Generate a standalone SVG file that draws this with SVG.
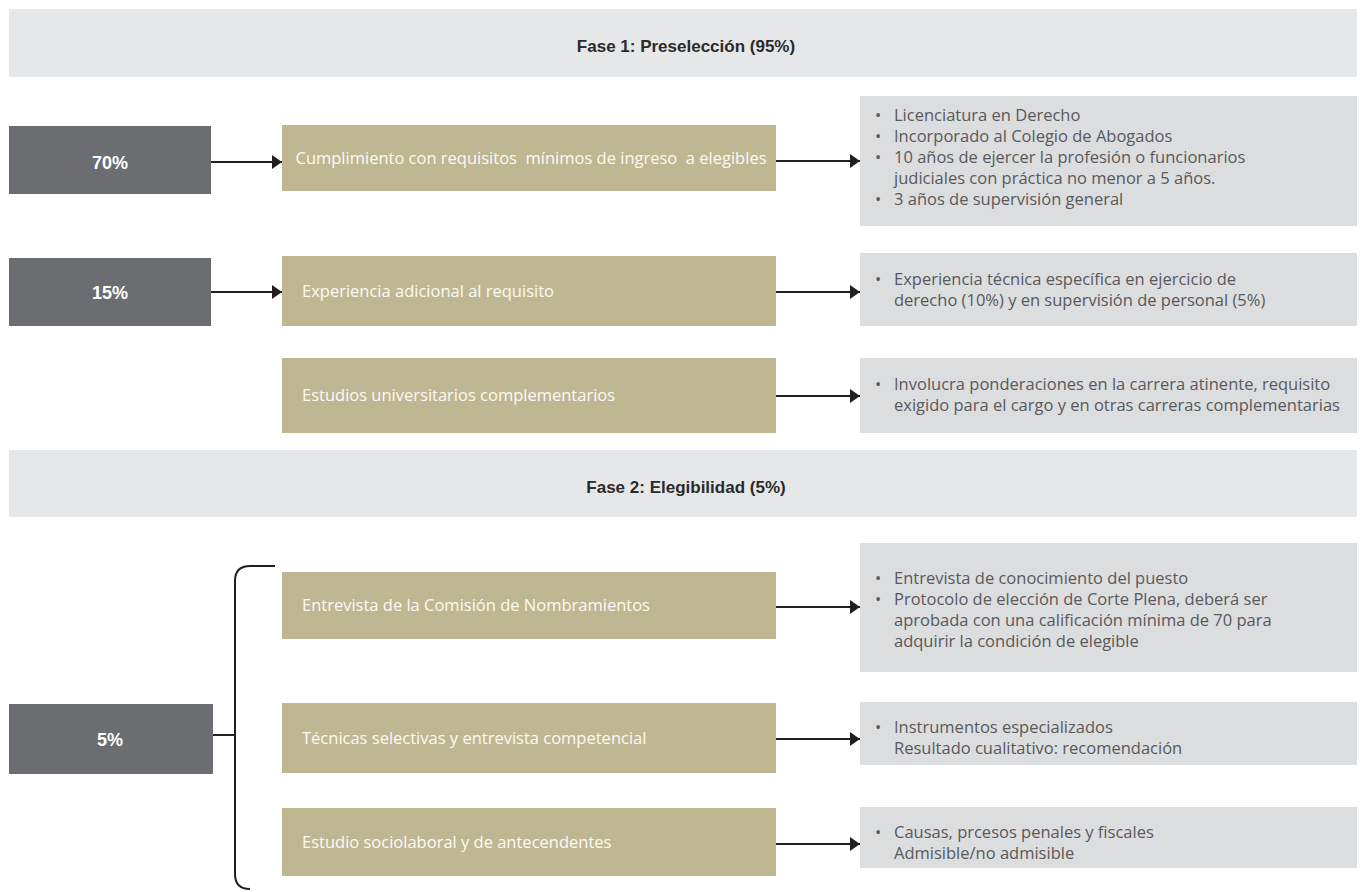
<svg xmlns="http://www.w3.org/2000/svg" width="1366" height="892" viewBox="0 0 1366 892">
  <defs>
    <marker id="arrowhead" viewBox="0 0 10 14" refX="10" refY="7" markerWidth="10" markerHeight="14" markerUnits="userSpaceOnUse" orient="auto">
      <path d="M0,0 L10,7 L0,14 Z" fill="#231f20"/>
    </marker>
    <style>
      .band { fill: #e6e7e8; }
      .band-text { font-family: "Liberation Sans", Arial, sans-serif; font-size: 17px; font-weight: bold; fill: #2b2b2b; }
      .pct { fill: #6c6d70; }
      .pct-text { font-family: "Liberation Sans", Arial, sans-serif; font-size: 18px; font-weight: bold; fill: #ffffff; }
      .step { fill: #bfb792; }
      .step-text { font-family: "Open Sans", "Noto Sans", sans-serif; font-size: 16.5px; fill: #fbfaf5; }
      .detail { fill: #dcdddf; }
      .detail-text { font-family: "Open Sans", "Noto Sans", sans-serif; font-size: 16.5px; fill: #58595b; }
      .conn { stroke: #231f20; stroke-width: 2; fill: none; }
    </style>
  </defs>

  <rect width="1366" height="892" fill="#ffffff"/>

  <!-- Phase 1 band -->
  <g id="fase1">
    <rect class="band" x="9" y="9" width="1348" height="68"/>
    <text class="band-text" x="686" y="52" text-anchor="middle">Fase 1: Preselección (95%)</text>
  </g>

  <g id="pct70">
    <rect class="pct" x="9" y="126" width="202" height="68"/>
    <text class="pct-text" x="110" y="169" text-anchor="middle">70%</text>
  </g>
  <g id="requisitos">
    <rect class="step" x="282" y="125" width="494" height="66"/>
    <text class="step-text" x="531" y="164" text-anchor="middle" xml:space="preserve">Cumplimiento con requisitos  mínimos de ingreso  a elegibles</text>
  </g>
  <g id="requisitos-detalle">
    <rect class="detail" x="860" y="96" width="497" height="130"/>
    <text class="detail-text">
      <tspan x="875" y="121">•</tspan><tspan x="894" y="121">Licenciatura en Derecho</tspan>
      <tspan x="875" y="142">•</tspan><tspan x="894" y="142">Incorporado al Colegio de Abogados</tspan>
      <tspan x="875" y="163">•</tspan><tspan x="894" y="163">10 años de ejercer la profesión o funcionarios</tspan>
      <tspan x="894" y="184">judiciales con práctica no menor a 5 años.</tspan>
      <tspan x="875" y="205">•</tspan><tspan x="894" y="205">3 años de supervisión general</tspan>
    </text>
  </g>

  <g id="pct15">
    <rect class="pct" x="9" y="258" width="202" height="68"/>
    <text class="pct-text" x="110" y="299" text-anchor="middle">15%</text>
  </g>
  <g id="experiencia">
    <rect class="step" x="282" y="256" width="494" height="70"/>
    <text class="step-text" x="302" y="297">Experiencia adicional al requisito</text>
  </g>
  <g id="experiencia-detalle">
    <rect class="detail" x="860" y="253" width="497" height="73"/>
    <text class="detail-text">
      <tspan x="875" y="285">•</tspan><tspan x="894" y="285">Experiencia técnica específica en ejercicio de</tspan>
      <tspan x="894" y="306">derecho (10%) y en supervisión de personal (5%)</tspan>
    </text>
  </g>

  <g id="estudios">
    <rect class="step" x="282" y="358" width="494" height="75"/>
    <text class="step-text" x="302" y="401">Estudios universitarios complementarios</text>
  </g>
  <g id="estudios-detalle">
    <rect class="detail" x="860" y="358" width="497" height="75"/>
    <text class="detail-text">
      <tspan x="875" y="390">•</tspan><tspan x="894" y="390">Involucra ponderaciones en la carrera atinente, requisito</tspan>
      <tspan x="894" y="411">exigido para el cargo y en otras carreras complementarias</tspan>
    </text>
  </g>

  <!-- Phase 2 band -->
  <g id="fase2">
    <rect class="band" x="9" y="450" width="1348" height="67"/>
    <text class="band-text" x="686" y="493" text-anchor="middle">Fase 2: Elegibilidad (5%)</text>
  </g>

  <g id="pct5">
    <rect class="pct" x="9" y="704" width="204" height="70"/>
    <text class="pct-text" x="110" y="746" text-anchor="middle">5%</text>
  </g>
  <g id="entrevista">
    <rect class="step" x="282" y="572" width="494" height="67"/>
    <text class="step-text" x="302" y="611">Entrevista de la Comisión de Nombramientos</text>
  </g>
  <g id="entrevista-detalle">
    <rect class="detail" x="860" y="543" width="497" height="129"/>
    <text class="detail-text">
      <tspan x="875" y="584">•</tspan><tspan x="894" y="584">Entrevista de conocimiento del puesto</tspan>
      <tspan x="875" y="605">•</tspan><tspan x="894" y="605">Protocolo de elección de Corte Plena, deberá ser</tspan>
      <tspan x="894" y="626">aprobada con una calificación mínima de 70 para</tspan>
      <tspan x="894" y="647">adquirir la condición de elegible</tspan>
    </text>
  </g>

  <g id="tecnicas">
    <rect class="step" x="282" y="703" width="494" height="70"/>
    <text class="step-text" x="302" y="744">Técnicas selectivas y entrevista competencial</text>
  </g>
  <g id="tecnicas-detalle">
    <rect class="detail" x="860" y="702" width="497" height="63"/>
    <text class="detail-text">
      <tspan x="875" y="733">•</tspan><tspan x="894" y="733">Instrumentos especializados</tspan>
      <tspan x="894" y="754">Resultado cualitativo: recomendación</tspan>
    </text>
  </g>

  <g id="sociolaboral">
    <rect class="step" x="282" y="808" width="494" height="68"/>
    <text class="step-text" x="302" y="848">Estudio sociolaboral y de antecendentes</text>
  </g>
  <g id="sociolaboral-detalle">
    <rect class="detail" x="860" y="807" width="497" height="61"/>
    <text class="detail-text">
      <tspan x="875" y="838">•</tspan><tspan x="894" y="838">Causas, prcesos penales y fiscales</tspan>
      <tspan x="894" y="859">Admisible/no admisible</tspan>
    </text>
  </g>

  <!-- Connectors -->
  <g id="connectors">
    <line class="conn" x1="211" y1="162" x2="282" y2="162" marker-end="url(#arrowhead)"/>
    <line class="conn" x1="776" y1="161" x2="860" y2="161" marker-end="url(#arrowhead)"/>
    <line class="conn" x1="211" y1="292" x2="282" y2="292" marker-end="url(#arrowhead)"/>
    <line class="conn" x1="776" y1="292" x2="860" y2="292" marker-end="url(#arrowhead)"/>
    <line class="conn" x1="776" y1="396" x2="860" y2="396" marker-end="url(#arrowhead)"/>
    <line class="conn" x1="776" y1="607" x2="860" y2="607" marker-end="url(#arrowhead)"/>
    <line class="conn" x1="776" y1="739" x2="860" y2="739" marker-end="url(#arrowhead)"/>
    <line class="conn" x1="776" y1="844" x2="860" y2="844" marker-end="url(#arrowhead)"/>
    <!-- bracket grouping the phase-2 steps -->
    <path class="conn" d="M275,566 H250 Q235,566 235,581 V874 Q235,889 250,889"/>
    <line class="conn" x1="213" y1="735" x2="235" y2="735"/>
  </g>
</svg>
